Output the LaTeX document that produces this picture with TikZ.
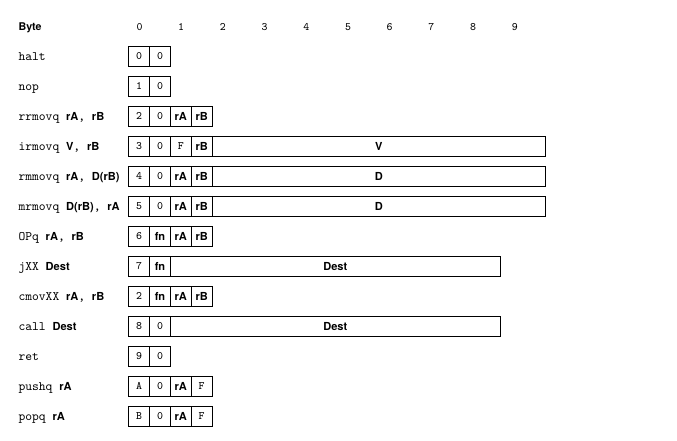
\documentclass[tikz,border=0pt]{standalone}
\usepackage{fontspec}
\setsansfont{TeX Gyre Heros}
\usetikzlibrary{positioning}
\newcommand\bs[1]{{\sffamily\bfseries\fontsize{8.3}{9}\selectfont #1}}
\begin{document}
\begin{tikzpicture}[x=0.75pt,y=-0.75pt,
  lbl/.style={anchor=base west, inner sep=0pt, font=\ttfamily\fontsize{9.7}{12}\selectfont},
  hdr/.style={anchor=base, inner sep=0pt, font=\ttfamily\fontsize{8.5}{9}\selectfont},
  cell/.style={draw, line width=0.7pt, minimum width=15.64pt, minimum height=15.375pt,
    inner sep=0pt, outer sep=0pt, anchor=west, font=\ttfamily\fontsize{8.5}{9}\selectfont},
  wide/.style={cell, minimum width=250.2pt},
  dest/.style={cell, minimum width=247.4pt}]
\useasboundingbox (0,0) rectangle (677,441);
% header
\node[lbl, font=\sffamily\bfseries\fontsize{8}{9}\selectfont] (byte) at (18.3,31) {Byte};
\foreach \i in {0,...,9} \node[hdr] (b\i) at (139.5+41.7*\i,31) {\i};
% halt
\node[lbl] (Lhalt) at (18.3,60.1) {halt};
\node[cell] (h0) at (128.7,56.3) {0};
\node[cell,right=0pt of h0] (h1) {0};
% nop
\node[lbl] (Lnop) at (18.3,90.1) {nop};
\node[cell] (n0) at (128.7,86.3) {1};
\node[cell,right=0pt of n0] (n1) {0};
% rrmovq
\node[lbl] (Lrr) at (18.3,120.1) {rrmovq \bs{rA}, \bs{rB}};
\node[cell] (rr0) at (128.7,116.3) {2};
\node[cell,right=0pt of rr0] (rr1) {0};
\node[cell,right=0pt of rr1] (rr2) {\bs{rA}};
\node[cell,right=0pt of rr2] (rr3) {\bs{rB}};
% irmovq
\node[lbl] (Lir) at (18.3,150.1) {irmovq \bs{V}, \bs{rB}};
\node[cell] (ir0) at (128.7,146.3) {3};
\node[cell,right=0pt of ir0] (ir1) {0};
\node[cell,right=0pt of ir1] (ir2) {F};
\node[cell,right=0pt of ir2] (ir3) {\bs{rB}};
\node[wide,right=0pt of ir3] (ir4) {\bs{V}};
% rmmovq
\node[lbl] (Lrm) at (18.3,180.1) {rmmovq \bs{rA}, \bs{D(rB)}};
\node[cell] (rm0) at (128.7,176.3) {4};
\node[cell,right=0pt of rm0] (rm1) {0};
\node[cell,right=0pt of rm1] (rm2) {\bs{rA}};
\node[cell,right=0pt of rm2] (rm3) {\bs{rB}};
\node[wide,right=0pt of rm3] (rm4) {\bs{D}};
% mrmovq
\node[lbl] (Lmr) at (18.3,210.1) {mrmovq \bs{D(rB)}, \bs{rA}};
\node[cell] (mr0) at (128.7,206.3) {5};
\node[cell,right=0pt of mr0] (mr1) {0};
\node[cell,right=0pt of mr1] (mr2) {\bs{rA}};
\node[cell,right=0pt of mr2] (mr3) {\bs{rB}};
\node[wide,right=0pt of mr3] (mr4) {\bs{D}};
% OPq
\node[lbl] (Lop) at (18.3,240.1) {OPq \bs{rA}, \bs{rB}};
\node[cell] (op0) at (128.7,236.3) {6};
\node[cell,right=0pt of op0] (op1) {\bs{fn}};
\node[cell,right=0pt of op1] (op2) {\bs{rA}};
\node[cell,right=0pt of op2] (op3) {\bs{rB}};
% jXX
\node[lbl] (Lj) at (18.3,270.1) {jXX \bs{Dest}};
\node[cell] (j0) at (128.7,266.3) {7};
\node[cell,right=0pt of j0] (j1) {\bs{fn}};
\node[dest,right=0pt of j1] (j2) {\bs{Dest}};
% cmovXX
\node[lbl] (Lc) at (18.3,300.1) {cmovXX \bs{rA}, \bs{rB}};
\node[cell] (c0) at (128.7,296.3) {2};
\node[cell,right=0pt of c0] (c1) {\bs{fn}};
\node[cell,right=0pt of c1] (c2) {\bs{rA}};
\node[cell,right=0pt of c2] (c3) {\bs{rB}};
% call
\node[lbl] (Lcall) at (18.3,330.1) {call \bs{Dest}};
\node[cell] (ca0) at (128.7,326.3) {8};
\node[cell,right=0pt of ca0] (ca1) {0};
\node[dest,right=0pt of ca1] (ca2) {\bs{Dest}};
% ret
\node[lbl] (Lret) at (18.3,360.1) {ret};
\node[cell] (re0) at (128.7,356.3) {9};
\node[cell,right=0pt of re0] (re1) {0};
% pushq
\node[lbl] (Lpu) at (18.3,390.1) {pushq \bs{rA}};
\node[cell] (pu0) at (128.7,386.3) {A};
\node[cell,right=0pt of pu0] (pu1) {0};
\node[cell,right=0pt of pu1] (pu2) {\bs{rA}};
\node[cell,right=0pt of pu2] (pu3) {F};
% popq
\node[lbl] (Lpo) at (18.3,420.1) {popq \bs{rA}};
\node[cell] (po0) at (128.7,416.3) {B};
\node[cell,right=0pt of po0] (po1) {0};
\node[cell,right=0pt of po1] (po2) {\bs{rA}};
\node[cell,right=0pt of po2] (po3) {F};
\end{tikzpicture}
\end{document}
